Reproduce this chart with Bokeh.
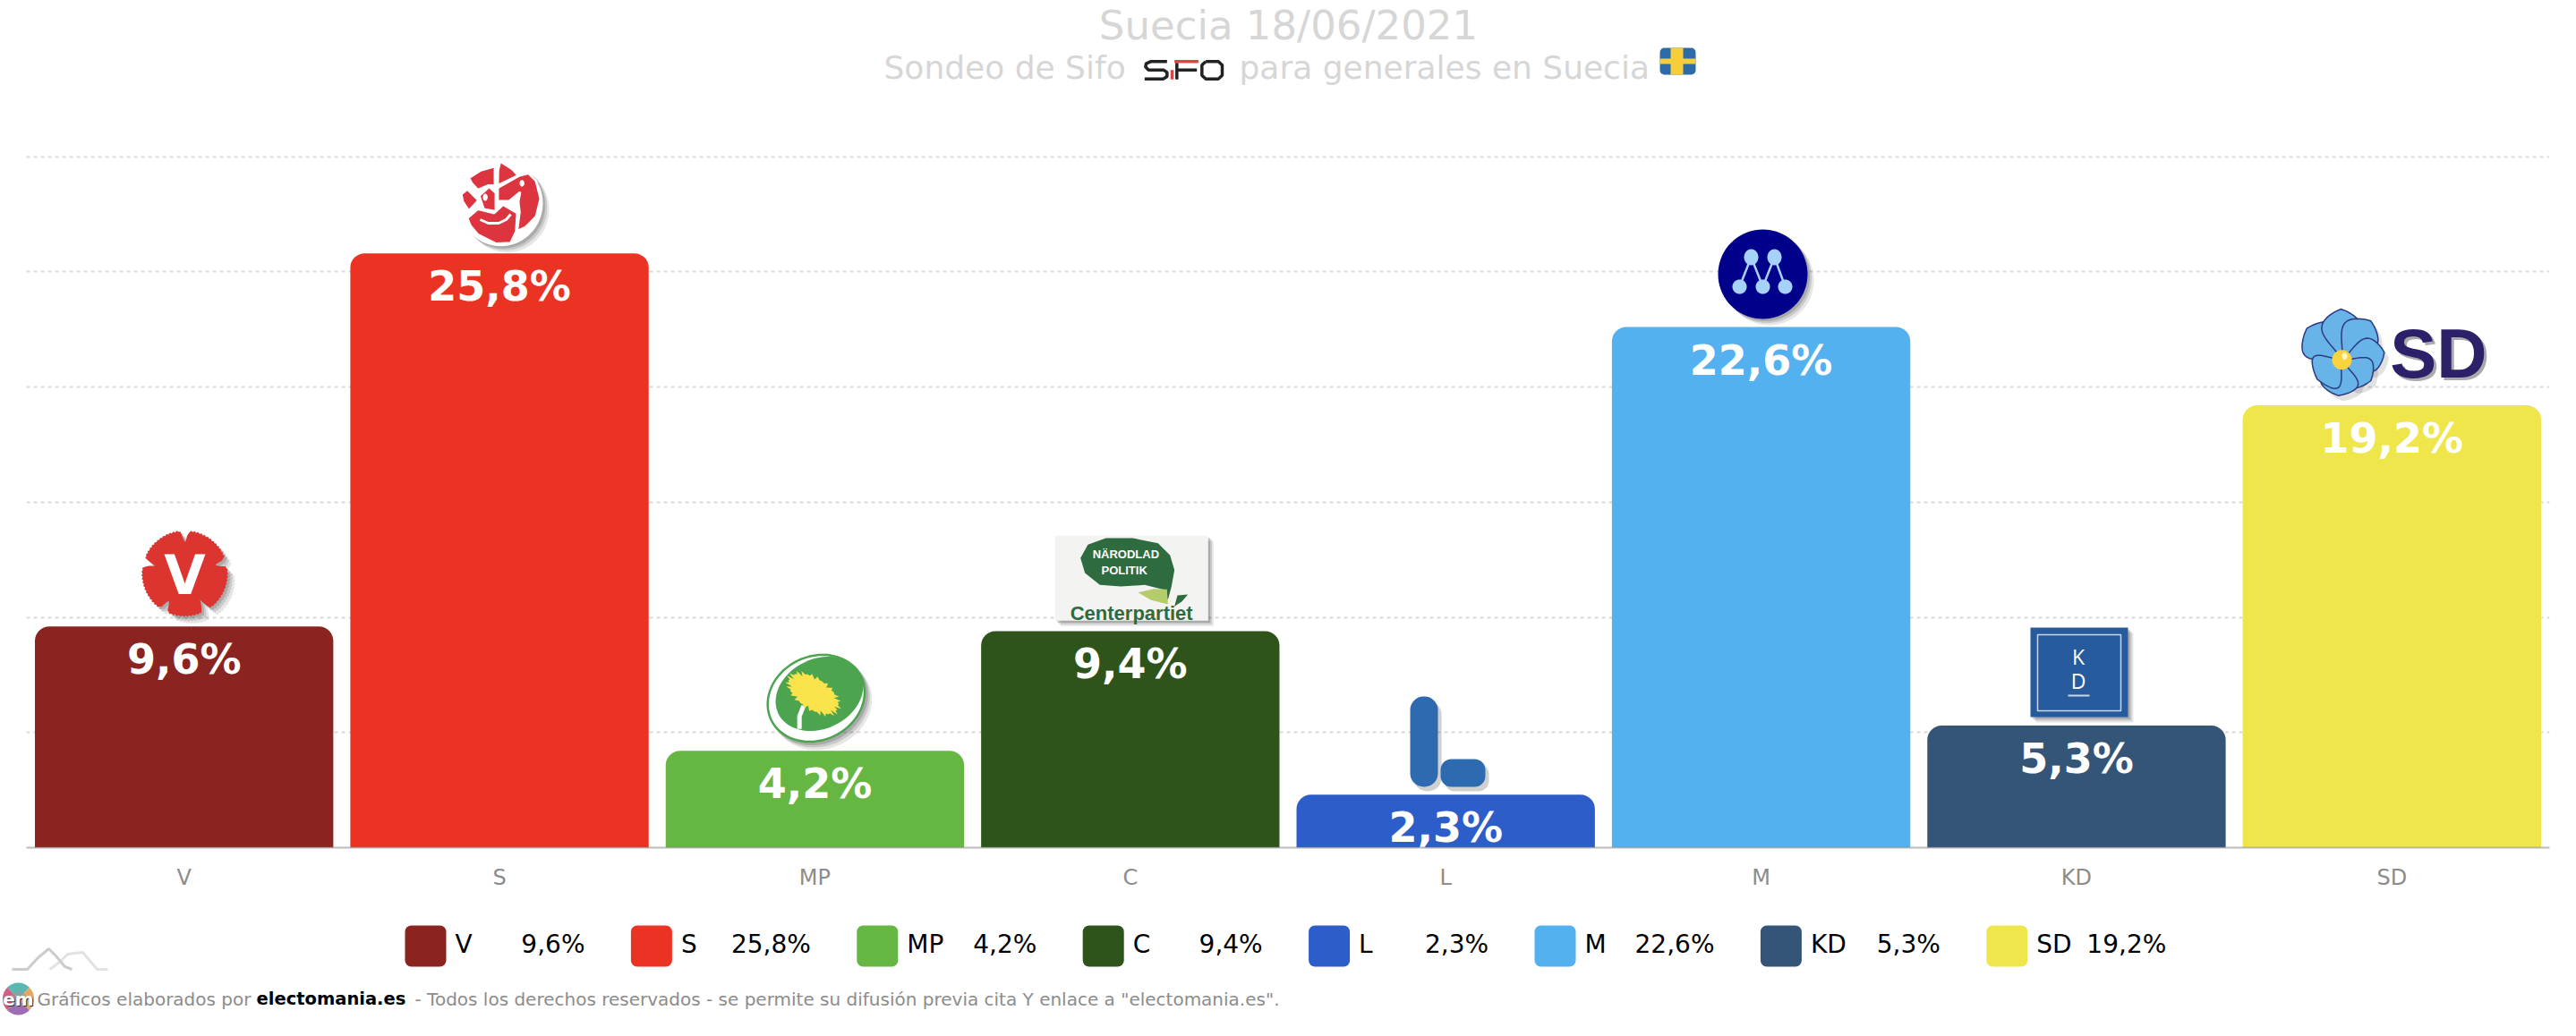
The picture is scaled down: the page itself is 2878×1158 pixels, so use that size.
import numpy as np
from bokeh.plotting import figure
from bokeh.layouts import column
from bokeh.models import ColumnDataSource, FactorRange, Range1d, FixedTicker, Label
from bokeh.core.properties import value
from bokeh.embed import file_html
from bokeh.resources import INLINE

parties = ["V", "S", "MP", "C", "L", "M", "KD", "SD"]
values = [9.6, 25.8, 4.2, 9.4, 2.3, 22.6, 5.3, 19.2]
colors = ["#8B2420", "#EB3323", "#66B643", "#2F541B", "#2C5DC9", "#53B1F0", "#345578", "#EEE64B"]
labels = ["9,6%", "25,8%", "4,2%", "9,4%", "2,3%", "22,6%", "5,3%", "19,2%"]
grid_ticks = [0, 5, 10, 15, 20, 25, 30]
title_text = "Suecia 18/06/2021"
FONT = "DejaVu Sans"
SANS = "Liberation Sans"

# page-pixel geometry of the frame
W, H = 2870, 1030
FOOT_H = 120
LEFT, RIGHT, TOP, BOTTOM = 29, 2848, 0, 947
PX_PER_UNIT = (947 - 174.5) / 30

p = figure(x_range=FactorRange(factors=parties), y_range=Range1d(0, (BOTTOM - TOP) / PX_PER_UNIT),
           width=W, height=H, output_backend="svg", toolbar_location=None,
           min_border_left=LEFT, min_border_right=W - RIGHT, min_border_top=TOP,
           min_border_bottom=H - BOTTOM)
p.frame_align = False
p.outline_line_color = None
p.background_fill_color = "white"
p.extra_y_ranges["px"] = Range1d(BOTTOM, TOP)

p.yaxis.visible = False
p.xgrid.visible = False
p.ygrid.ticker = FixedTicker(ticks=grid_ticks)
p.ygrid.grid_line_color = "#d9d9d9"
p.ygrid.grid_line_width = 2
p.ygrid.grid_line_dash = "4 4"

ax = p.xaxis[0]
ax.axis_line_color = "#777777"
ax.axis_line_alpha = 0.5
ax.axis_line_width = 2
ax.major_tick_line_color = None
ax.minor_tick_line_color = None
ax.major_label_text_color = "#8c8c8c"
ax.major_label_text_font = FONT
ax.major_label_text_font_size = "24px"
ax.major_label_standoff = 13
ax.level = "overlay"

src = ColumnDataSource(dict(x=parties, top=values, color=colors, label=labels))
bars = p.vbar(x="x", top="top", width=0.946, fill_color="color", line_color=None,
              border_radius=(16, 16, 0, 0), source=src)

# -------- logo helpers (page pixels, from crops scaled 3x)
def fx(v):
    """page pixel -> position on the categorical range"""
    return (v - LEFT) / ((RIGHT - LEFT) / len(parties))

def fxs(seq):
    return [float(fx(v)) for v in seq]

YP = dict(y_range_name="px")

def z(ox, oy, pts):
    a = np.array(pts, dtype=float)
    return list(ox + a[:, 0] / 3), list(oy + a[:, 1] / 3)

def patch(xs, ys, fill, line=None, lw=1, alpha=1.0):
    p.patch(fxs(xs), [float(v) for v in ys], fill_color=fill, fill_alpha=alpha, line_color=line, line_width=lw, **YP)

def shadow(xs, ys, dx=5, dy=6):
    for k, a in ((1.0, 0.12), (0.6, 0.16), (0.25, 0.2)):
        patch([x + dx * k + 1 for x in xs], [y + dy * k + 1 for y in ys], "#333333", alpha=a)

def line(xs, ys, color, lw):
    p.line(fxs(xs), [float(v) for v in ys], line_color=color, line_width=lw, **YP)

def box(l, r_, t_, b_, fill, rad, alpha=1.0):
    p.quad(left=[fx(l)], right=[fx(r_)], top=[t_], bottom=[b_], fill_color=fill, fill_alpha=alpha,
           line_color=None, border_radius=rad, **YP)

def txt(x, y, s, size, color, font=FONT, style="bold", align="center", base="middle"):
    p.text([fx(x)], [y], text=[s], text_font=value(font), text_font_size=f"{size}px", text_color=color,
           text_font_style=style, text_align=align, text_baseline=base, **YP)

def oval(cx, cy, rx, ry, rot=0.0, n=72):
    t = np.linspace(0, 2 * np.pi, n, endpoint=False)
    c, s = np.cos(rot), np.sin(rot)
    x, y = rx * np.cos(t), ry * np.sin(t)
    return list(cx + x * c - y * s), list(cy + x * s + y * c)

# V carnation
t = np.linspace(0, 2 * np.pi, 150, endpoint=False)
r = 48.5 - 1.4 * (np.arange(150) % 2)
for a in (90, 165, 15, 240, 300):
    d = np.angle(np.exp(1j * (t - np.radians(a))))
    r = r - 13 * np.exp(-(d / 0.07) ** 2)
vx, vy = list(206 + r * np.cos(t)), list(640.5 - r * np.sin(t))
shadow(vx, vy, 7, 7)
patch(vx, vy, "#DC3530")
txt(206, 642, "V", 60, "white")

# S rose
rose = [
    [(205, 45), (245, 70), (265, 92), (197, 125), (198, 75)],
    [(197, 133), (270, 92), (300, 85), (325, 110), (340, 170), (325, 230), (290, 265), (262, 278),
     (270, 215), (266, 180), (272, 148), (235, 178), (197, 178)],
    [(100, 100), (140, 75), (187, 62), (187, 125), (165, 125), (130, 140), (110, 118)],
    [(75, 155), (95, 138), (132, 175), (100, 210), (80, 180)],
    [(135, 160), (168, 130), (190, 150), (190, 212), (150, 205)],
    [(95, 235), (130, 205), (185, 218), (215, 190), (262, 218), (258, 280), (240, 318), (190, 320),
     (130, 290), (105, 260)],
]
xr, yr = oval(490 + 207 / 3, 165 + 185 / 3, 47, 48)
shadow(xr, yr, 6, 6)
patch(xr, yr, "white")
for pts in rose:
    xs, ys = z(490, 165, pts)
    patch(xs, ys, "#DC3540", "white", 2.5)
for cx, cy, rx, ry, col in ((278, 118, 8, 11, "white"), (155, 165, 8, 12, "white")):
    xs, ys = oval(490 + cx / 3, 165 + cy / 3, rx / 3, ry / 3)
    patch(xs, ys, col)
xs, ys = z(490, 165, [(138, 240), (165, 252), (200, 252), (225, 240), (240, 222)])
line(xs, ys, "white", 3)

# MP
xs, ys = oval(840 + 214 / 3, 725 + 165 / 3, 57, 48, -0.45)
shadow(xs, ys, 6, 7)
patch(xs, ys, "#4CA44F")
xs, ys = oval(840 + 214 / 3, 725 + 165 / 3, 54.5, 45.5, -0.45)
patch(xs, ys, "white")
xs, ys = oval(840 + 225 / 3, 725 + 150 / 3, 51, 39, -0.45)
patch(xs, ys, "#4CA44F")
xs, ys = z(840, 725, [(172, 190), (158, 225), (158, 268)])
line(xs, ys, "white", 5)
t = np.linspace(0, 2 * np.pi, 64, endpoint=False)
spike = 1 - 0.14 * (np.arange(64) % 2) - 0.1 * (np.arange(64) % 3 == 0)
xd = 36 * spike * np.cos(t)
yd = 19 * spike * np.sin(t)
c, s = np.cos(0.6), np.sin(0.6)
patch(840 + 205 / 3 + xd * c - yd * s, 725 + 150 / 3 + xd * s + yd * c, "#FBE34C")

# C
xs, ys = z(1165, 590, [(40, 25), (553, 25), (553, 310), (40, 310)])
shadow(xs, ys, 5, 5)
patch(xs, ys, "#F3F3F1")
xs, ys = z(1165, 590, [(125, 100), (150, 55), (210, 33), (300, 33), (385, 50), (425, 90), (440, 140),
                       (430, 195), (418, 240), (400, 205), (340, 190), (260, 195), (190, 190), (140, 150)])
patch(xs, ys, "#2E6B3F")
xs, ys = z(1165, 590, [(318, 215), (370, 203), (415, 205), (418, 255), (360, 240)])
patch(xs, ys, "#B5CC6A")
xs, ys = z(1165, 590, [(440, 262), (450, 225), (485, 222), (465, 245)])
patch(xs, ys, "#2E6B3F")
txt(1165 + 277 / 3, 590 + 88 / 3, "NÄRODLAD", 13, "white", SANS)
txt(1165 + 272 / 3, 590 + 142 / 3, "POLITIK", 13, "white", SANS)
txt(1165 + 296 / 3, 590 + 285 / 3, "Centerpartiet", 22, "#2E6B3F", SANS)

# L
LB = "#2E6AAF"
for l, r_, t_, b_, rad in ((1575, 1606, 778, 879, 15), (1609, 1659, 848, 879, 12)):
    box(l + 4, r_ + 4, t_ + 5, b_ + 5, "#444444", rad, 0.25)
    box(l, r_, t_, b_, LB, rad)

# M
xs, ys = oval(1969, 306, 50, 50)
shadow(xs, ys, 6, 6)
patch(xs, ys, "#00008B")
tops = [(1956, 287), (1982, 287)]
bots = [(1943, 320), (1969, 320), (1994, 320)]
links = [(tops[0], bots[0]), (tops[0], bots[1]), (tops[1], bots[1]), (tops[1], bots[2])]
for a, b in links:
    line([a[0], b[0]], [a[1], b[1]], "#A6D2FA", 2.5)
for (cx, cy) in tops + bots:
    xs, ys = oval(cx, cy, 8, 8 if cy > 300 else 9)
    patch(xs, ys, "#A6D2FA")

# KD
xs, ys = [2268, 2377, 2377, 2268], [701, 701, 801, 801]
shadow(xs, ys, 5, 5)
patch(xs, ys, "#275B9D")
patch([2276, 2369, 2369, 2276], [709, 709, 794, 794], None, "#C8D8EC", 1.5)
txt(2321.5, 733, "K", 23, "white", "Open Sans", "normal")
txt(2321.5, 760, "D", 23, "white", "Open Sans", "normal")
line([2310, 2334], [777, 777], "#C8D8EC", 2)

# SD
cx0, cy0 = 2560 + 168 / 3, 335 + 200 / 3
tips = [(50, 95), (165, 30), (265, 70), (310, 175), (265, 270), (155, 320), (85, 265)]
widths = [24, 22, 22, 19, 19, 21, 22]
u = np.linspace(0, 1, 24)
prof = np.sin(np.pi * u ** 1.5) ** 0.8
all_x, all_y = [], []
for (tx, ty), wd in zip(tips, widths):
    ex, ey = 2560 + tx / 3 - cx0, 335 + ty / 3 - cy0
    ln = np.hypot(ex, ey)
    nx, ny = -ey / ln, ex / ln
    all_x.append(list(cx0 + ex * u + nx * wd * prof) + list((cx0 + ex * u - nx * wd * prof)[::-1]))
    all_y.append(list(cy0 + ey * u + ny * wd * prof) + list((cy0 + ey * u - ny * wd * prof)[::-1]))
for px_, py_ in zip(all_x, all_y):
    patch([v + 5 for v in px_], [v + 6 for v in py_], "#333333", alpha=0.15)
for px_, py_ in zip(all_x, all_y):
    patch(px_, py_, "#68B4E8", "#2C3A7E", 1.5)
xs, ys = oval(cx0, cy0, 11, 11)
patch(xs, ys, "#F9D33D")
xs, ys = oval(cx0 + 3, cy0 - 4, 3, 4)
patch(xs, ys, "#FFF6C8")
txt(2727, 397, "SD", 78, "#AAAAAA", SANS, "bold")
txt(2724, 394, "SD", 78, "#2C2068", SANS, "bold")

# flag + SIFO
box(1854, 1894, 53, 83, "#2D6AA8", 5)
patch([1866, 1880, 1880, 1866], [53, 53, 83, 83], "#F8CD3A")
patch([1854, 1894, 1894, 1854], [65, 65, 71, 71], "#F8CD3A")
sifo_dark = "#222222"
s_path = z(1270, 55, [(100, 40), (45, 40), (30, 47), (28, 58), (38, 68), (88, 68), (100, 76), (100, 90), (88, 98), (25, 98)])
f_stem = z(1270, 55, [(133, 44), (133, 100)])
f_mid = z(1270, 55, [(133, 68), (200, 68)])
o_box = z(1270, 55, [(230, 40), (272, 40), (285, 52), (285, 86), (272, 98), (230, 98), (217, 86), (217, 52), (230, 40)])
for xs, ys in (s_path, f_stem, f_mid, o_box):
    line(xs, ys, sifo_dark, 3.5)
for xs, ys in (z(1270, 55, [(117, 68), (117, 100)]), z(1270, 55, [(125, 40), (205, 40)])):
    line(xs, ys, "#D94444", 3.5)

# value labels
p.text(x="x", y="top", text="label", source=src, text_color="white", text_font=value(FONT),
       text_font_style="bold", text_font_size="46px", text_align="center", text_baseline="middle",
       y_offset=37)

# titles
def lab(x, y, s, size, color, style="normal", align="left"):
    p.add_layout(Label(x=fx(x), y=y, text=s, y_range_name="px", text_font=FONT, level="overlay",
                       text_font_size=f"{size}px", text_color=color, text_font_style=style,
                       text_align=align, text_baseline="middle"))

TITLE_C = "#d6d6d6"
lab(1439, 28, title_text, 45, TITLE_C, align="center")
lab(987, 75, "Sondeo de Sifo", 36, TITLE_C)
lab(1384, 75, "para generales en Suecia", 36, TITLE_C)

# -------- lower band: legend and credits, its own figure in page pixels
q = figure(x_range=Range1d(0, W), y_range=Range1d(H + FOOT_H, H), width=W, height=FOOT_H,
           output_backend="svg", toolbar_location=None, min_border=0)
q.frame_align = False
q.axis.visible = False
q.grid.visible = False
q.outline_line_color = None

step = 252.4
SW_L = [452 + i * step for i in range(len(parties))]
q.quad(left=SW_L, right=[x + 46 for x in SW_L], top=[1034] * 8, bottom=[1080] * 8, fill_color=colors,
       line_color=None, border_radius=7)

def qtxt(x, y, s, size, color, style="normal", align="left"):
    q.text([x], [y], text=[s], text_font=value(FONT), text_font_size=f"{size}px", text_color=color,
           text_font_style=style, text_align=align, text_baseline="middle")

for i, (name, lab_) in enumerate(zip(parties, labels)):
    qtxt(SW_L[i] + 56, 1055, name, 28, "#000000")
    qtxt(SW_L[i] + 201, 1055, lab_, 28, "#000000", align="right")

GRAY = "#8c8c8c"
qtxt(41, 1116, "Gráficos elaborados por", 20, GRAY)
qtxt(286, 1116, "electomania.es", 19.5, "#000000", "bold")
qtxt(463, 1116, '- Todos los derechos reservados - se permite su difusión previa cita Y enlace a "electomania.es".', 20, GRAY)

for a0, a1, col in ((45, 135, "#58B9B2"), (135, 225, "#CF5F84"), (225, 315, "#9C6FB4"), (315, 405, "#E4A763")):
    th = np.radians(np.linspace(a0, a1, 16))
    q.patch([20.0] + list(20 + 17.5 * np.cos(th)), [1116.0] + list(1116 - 18 * np.sin(th)), fill_color=col, line_color=None)
xs, ys = oval(20, 1116, 9, 9)
q.patch(xs, ys, fill_color="#9a9a9a", fill_alpha=0.6, line_color=None)
qtxt(21, 1117, "em", 20, "#333333", "bold", "center")
qtxt(20, 1116, "em", 20, "#ffffff", "bold", "center")

q.line([55, 66, 75, 83, 92, 108, 120], [1083, 1075, 1066, 1065, 1064, 1083, 1083], line_color="#e2e2e2", line_width=3)
q.line([13, 30, 42, 54, 62, 72, 80], [1083, 1083, 1070, 1060, 1068, 1080, 1083], line_color="#cccccc", line_width=3)

open("out.html", "w").write(file_html(column(p, q, spacing=0), INLINE))
